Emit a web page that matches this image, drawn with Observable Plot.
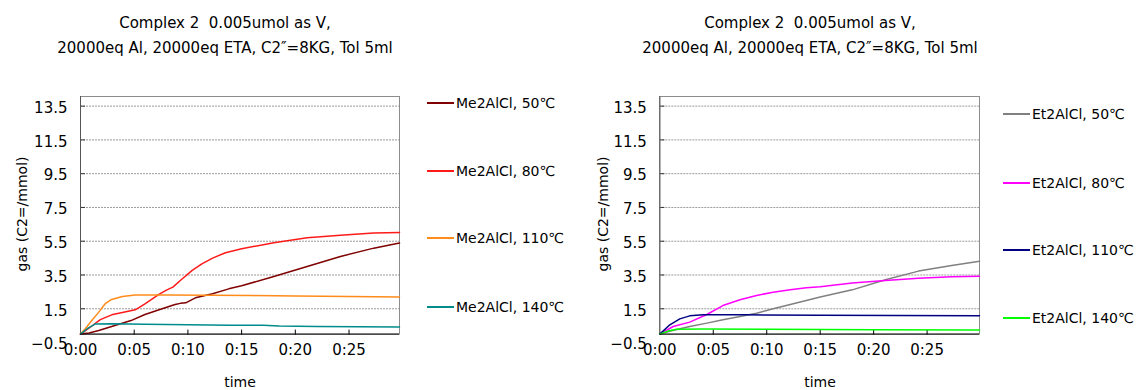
<!DOCTYPE html>
<html>
<head>
<meta charset="utf-8">
<script src="https://cdn.jsdelivr.net/npm/d3@7"></script>
<script src="https://cdn.jsdelivr.net/npm/@observablehq/plot@0.6"></script>
<style>
  body { margin: 0; background: #fff; }
  #wrap { position: relative; width: 1139px; height: 390px; overflow: hidden; font-family: "DejaVu Sans", sans-serif; color: #000; }
  .abs { position: absolute; white-space: pre; }
  .title { font-size: 15px; line-height: 25px; text-align: center; transform: translateX(-50%); }
  .ylab { font-size: 14px; transform: translate(-50%, -50%) rotate(-90deg); }
  .xlab { font-size: 14px; transform: translate(-50%, -50%); }
  .leg { font-size: 14px; transform: translateY(-50%); }
  .legline { height: 2px; }
</style>
</head>
<body>
<div id="wrap"></div>
<script>
// ---- data (time in minutes, gas in mmol) ----
const titleLines = ["Complex 2  0.005umol as V,", "20000eq Al, 20000eq ETA, C2\u2033=8KG, Tol 5ml"];
const yAxisTitle = "gas (C2=/mmol)";
const xAxisTitle = "time";
const xTicks = [0, 5, 10, 15, 20, 25];
const yTicks = [-0.5, 1.5, 3.5, 5.5, 7.5, 9.5, 11.5, 13.5];

const leftNames = ["Me2AlCl, 50\u2103", "Me2AlCl, 80\u2103", "Me2AlCl, 110\u2103", "Me2AlCl, 140\u2103"];
const leftColors = ["#800000", "#FF1A1A", "#FF8C1A", "#008B8B"];
const me50 = [[0,0],[0.8,0.06],[1.7,0.21],[2.9,0.45],[4.7,0.8],[6,1.16],[7.6,1.5],[8.8,1.75],[9.3,1.82],[9.8,1.85],[10.7,2.15],[12.3,2.39],[13.8,2.68],[15.0,2.86],[18,3.41],[21.1,4.0],[24.2,4.6],[27.3,5.09],[29.7,5.39]];
const me80 = [[0,0],[0.5,0.22],[1.0,0.45],[1.5,0.7],[1.85,0.86],[2.9,1.14],[3.9,1.28],[5.1,1.44],[6.0,1.79],[7.3,2.35],[8.0,2.6],[8.6,2.78],[9.4,3.23],[10.4,3.77],[11.3,4.16],[12.3,4.5],[13.5,4.82],[15.0,5.05],[18,5.41],[21.1,5.7],[24.2,5.86],[27.3,5.98],[29.7,6.02]];
const me110 = [[0,0],[0.5,0.36],[1.05,0.8],[1.7,1.3],[2.3,1.8],[2.9,2.05],[3.9,2.23],[5.1,2.31],[8,2.32],[12,2.3],[16,2.28],[20,2.25],[25,2.23],[29.7,2.2]];
const me140 = [[0,0],[0.7,0.35],[1.4,0.6],[3,0.62],[6,0.58],[10,0.55],[14,0.53],[17,0.53],[18.5,0.48],[22,0.45],[26,0.43],[29.7,0.42]];

const rightNames = ["Et2AlCl, 50\u2103", "Et2AlCl, 80\u2103", "Et2AlCl, 110\u2103", "Et2AlCl, 140\u2103"];
const rightColors = ["#808080", "#FF00FF", "#000080", "#00FF00"];
const et50 = [[0,0],[1,0.18],[2.8,0.45],[4.4,0.65],[5.9,0.85],[7.5,1.04],[9.05,1.24],[10.6,1.5],[12.2,1.75],[13.7,1.99],[15.0,2.2],[18,2.62],[21.1,3.22],[24.2,3.73],[27.3,4.06],[29.9,4.32]];
const et80 = [[0,0],[1.25,0.45],[2.8,0.71],[4.4,1.16],[5.9,1.69],[7.5,2.03],[9.05,2.29],[10.6,2.48],[12.2,2.62],[13.7,2.74],[15,2.8],[18,3.02],[21.1,3.18],[24.2,3.31],[27.3,3.39],[29.9,3.43]];
const et110 = [[0,0],[0.94,0.55],[1.87,0.9],[2.8,1.08],[4.06,1.14],[8,1.14],[15,1.12],[22,1.1],[29.9,1.08]];
const et140 = [[0,0],[0.8,0.18],[1.56,0.29],[4,0.3],[10,0.28],[20,0.26],[29.9,0.24]];

const leftSeries = [me50, me80, me110, me140];
const rightSeries = [et50, et80, et110, et140];

// ---- drawing ----
const wrap = document.getElementById("wrap");
const fmtTime = d => "0:" + String(d).padStart(2, "0");
const fmtY = d => d3.format(".1f")(d);
const gridTicks = yTicks.filter(d => d > 0);

function chart({names, colors, series, xMax, width, marginLeft, marginRight}) {
  const data = series.flatMap((pts, i) => pts.map(([t, v]) => ({t, v, name: names[i], color: colors[i]})));
  return Plot.plot({
    width, height: 390,
    marginLeft, marginRight, marginTop: 96, marginBottom: 56.4,
    style: {fontFamily: "DejaVu Sans, sans-serif", fontSize: "15px", color: "#000", background: "transparent", overflow: "visible"},
    x: {domain: [0, xMax], label: null},
    y: {domain: [0, 14.07], label: null},
    color: {type: "identity"},
    marks: [
      Plot.gridY(gridTicks, {stroke: "#9a9a9a", strokeOpacity: 1, strokeDasharray: "2,1"}),
      Plot.frame({stroke: "#8c8c8c"}),
      Plot.ruleX([0], {stroke: "#555"}),
      Plot.axisX({anchor: "top", frameAnchor: "bottom", ticks: xTicks.slice(1), text: null, tickSize: 5, stroke: "#000"}),
      Plot.axisY({anchor: "right", frameAnchor: "left", ticks: gridTicks, text: null, tickSize: 4, stroke: "#333"}),
      Plot.axisX({anchor: "bottom", ticks: xTicks, tickFormat: fmtTime, tickSize: 0, tickPadding: 10, fontSize: 15, label: null}),
      Plot.axisY({anchor: "left", ticks: yTicks, tickFormat: fmtY, tickSize: 0, tickPadding: 13, fontSize: 15, dy: 2, label: null}),
      Plot.line(data, {x: "t", y: "v", z: "name", stroke: "color", strokeWidth: 1.5}),
      Plot.ruleY([0], {stroke: "#000"})
    ]
  });
}

function place(el, left, top) {
  el.style.position = "absolute";
  el.style.left = left + "px";
  el.style.top = top + "px";
  wrap.appendChild(el);
}

function addText(cls, text, left, top) {
  const d = document.createElement("div");
  d.className = "abs " + cls;
  d.textContent = text;
  d.style.left = left + "px";
  d.style.top = top + "px";
  wrap.appendChild(d);
  return d;
}

const left = chart({names: leftNames, colors: leftColors, series: leftSeries, xMax: 29.7, width: 570, marginLeft: 80, marginRight: 171});
place(left, 0, 0);
const right = chart({names: rightNames, colors: rightColors, series: rightSeries, xMax: 29.9, width: 569, marginLeft: 89.3, marginRight: 160});
place(right, 570, 0);

// titles
function addTitle(cx) {
  const d = document.createElement("div");
  d.className = "abs title";
  d.textContent = titleLines.join("\n");
  d.style.left = cx + "px";
  d.style.top = "10.5px";
  wrap.appendChild(d);
}
addTitle(225);
addTitle(810);

// axis titles
addText("ylab", yAxisTitle, 22, 214);
addText("ylab", yAxisTitle, 603, 214);
addText("xlab", xAxisTitle, 240, 382);
addText("xlab", xAxisTitle, 820, 382);

// legends
function legend(names, colors, lineX1, lineX2, textX, ys) {
  names.forEach((n, i) => {
    const l = document.createElement("div");
    l.className = "abs legline";
    l.style.background = colors[i];
    l.style.left = lineX1 + "px";
    l.style.width = (lineX2 - lineX1) + "px";
    l.style.top = (ys[i] - 1) + "px";
    wrap.appendChild(l);
    addText("leg", n, textX, ys[i]);
  });
}
legend(leftNames, leftColors, 427, 454, 456, [103, 171, 238, 307]);
legend(rightNames, rightColors, 1003, 1030, 1032, [114, 183, 250, 318]);
</script>
</body>
</html>
